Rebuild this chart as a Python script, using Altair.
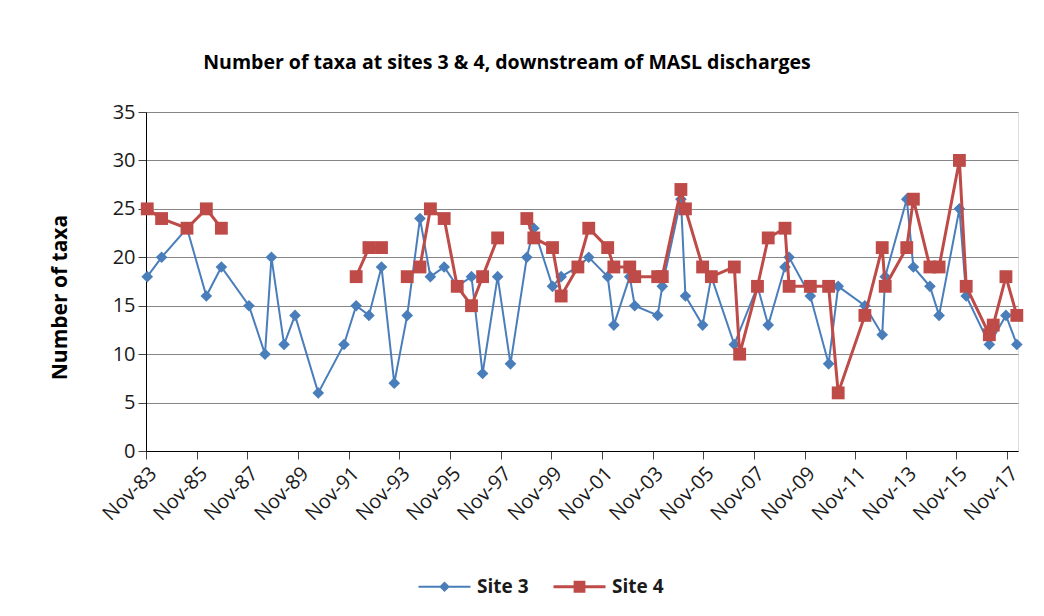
import altair as alt
import pandas as pd

# ---- data ----
dates = [
    "1983-12-03", "1984-06-27", "1985-06-28", "1986-04-03", "1986-11-06",
    "1987-12-09", "1988-07-27", "1988-10-28", "1989-04-28", "1989-10-03",
    "1990-09-03", "1991-09-09", "1992-03-03", "1992-09-03", "1993-03-03",
    "1993-09-03", "1994-03-09", "1994-09-09", "1995-02-06", "1995-08-24",
    "1996-02-28", "1996-09-21", "1997-02-28", "1997-10-03", "1998-04-06",
    "1998-11-28", "1999-03-09", "1999-12-03", "2000-04-06", "2000-12-03",
    "2001-05-09", "2002-02-06", "2002-05-06", "2002-12-21", "2003-03-03",
    "2004-01-28", "2004-04-03", "2004-12-28", "2005-03-03", "2005-11-06",
    "2006-03-12", "2007-02-06", "2007-04-24", "2008-01-06", "2008-06-09",
    "2009-02-06", "2009-04-06", "2010-02-06", "2010-10-28", "2011-03-15",
    "2012-04-03", "2012-12-09", "2013-01-21", "2013-11-28", "2014-03-03",
    "2014-10-28", "2015-03-09", "2015-12-27", "2016-04-03", "2017-03-03",
    "2017-04-28", "2017-10-28", "2018-04-03",
]
site3 = [
    18, 20, 23, 16, 19,
    15, 10, 20, 11, 14,
    6, 11, 15, 14, 19,
    7, 14, 24, 18, 19,
    17, 18, 8, 18, 9,
    20, 23, 17, 18, 19,
    20, 18, 13, 18, 15,
    14, 17, 26, 16, 13,
    18, 11, None, 17, 13,
    19, 20, 16, 9, 17,
    15, 12, 18, 26, 19,
    17, 14, 25, 16, 11,
    None, 14, 11,
]
site4 = [
    25, 24, 23, 25, 23,
    None, None, None, None, None,
    None, None, 18, 21, 21,
    None, 18, 19, 25, 24,
    17, 15, 18, 22, None,
    24, 22, 21, 16, 19,
    23, 21, 19, 19, 18,
    18, 18, 27, 25, 19,
    18, 19, 10, 17, 22,
    23, 17, 17, 17, 6,
    14, 21, 17, 21, 26,
    19, 19, 30, 17, 12,
    13, 18, 14,
]
series_names = ["Site 3", "Site 4"]
series_colors = ["#4a7ebb", "#be4b48"]
tick_years = list(range(1983, 2018, 2))
y_ticks = [0, 5, 10, 15, 20, 25, 30, 35]

rows = []
for d, a, b in zip(dates, site3, site4):
    rows.append({"date": d, "series": "Site 3", "taxa": a})
    rows.append({"date": d, "series": "Site 4", "taxa": b})
df = pd.DataFrame(rows)
legend_df = pd.DataFrame({"series": series_names})

FONT = "Open Sans"
blue, red = series_colors

# legend symbols: line with marker (custom unit paths)
p3 = "M-1.5,-0.06H1.5V0.06H-1.5Z M0,-0.31L0.31,0L0,0.31L-0.31,0Z"
p4 = "M-1.5,-0.085H1.5V0.085H-1.5Z M-0.34,-0.34H0.34V0.34H-0.34Z"


def make_legend():
    return alt.Legend(
        title=None, orient="none", direction="horizontal",
        legendX=281, legendY=457, padding=0,
        symbolSize=1200, symbolStrokeWidth=0, symbolOpacity=1,
        labelFont=FONT, labelFontSize=19, labelFontWeight="bold",
        labelColor="#1a1a1a", labelOffset=15, columnPadding=24,
    )


x_enc = alt.X(
    "date:T",
    scale=alt.Scale(type="utc", domain=[
        alt.DateTime(year=1983, month=11, date=15, utc=True),
        alt.DateTime(year=2018, month=4, date=20, utc=True)]),
    axis=alt.Axis(
        values=[alt.DateTime(year=y, month=11, date=15, utc=True) for y in tick_years],
        format="%b-%y", labelAngle=-45, labelFont=FONT, labelFontSize=20,
        labelColor="#1a1a1a", tickSize=8, tickColor="#444", domainColor="#000",
        grid=False, title=None, labelPadding=4, labelFlush=False, labelOverlap=False,
    ),
)
y_enc = alt.Y(
    "taxa:Q",
    scale=alt.Scale(domain=[0, 35], nice=False),
    axis=alt.Axis(
        values=y_ticks, grid=True, gridColor="#868686", gridWidth=1,
        tickSize=8, tickColor="#444", domainColor="#000",
        labelFont=FONT, labelFontSize=20, labelColor="#1a1a1a", labelPadding=3,
        title="Number of taxa", titleFont=FONT, titleFontSize=21,
        titleFontWeight="bold", titleColor="#000", titleX=-86, titleY=185,
        titleAngle=-90, titleAlign="center", titleBaseline="middle",
    ),
)

base = alt.Chart(df)

blue_line = base.transform_filter(
    "datum.series == 'Site 3' && isValid(datum.taxa)"
).mark_line(color=blue, strokeWidth=2).encode(x=x_enc, y=y_enc)

blue_pts = base.transform_filter(
    "datum.series == 'Site 3' && isValid(datum.taxa)"
).mark_point(shape="diamond", filled=True, size=136, opacity=1, color=blue).encode(
    x=x_enc, y=y_enc)

red_line = base.transform_filter("datum.series == 'Site 4'").mark_line(
    color=red, strokeWidth=3, invalid="break-paths-filter-domains"
).encode(x=x_enc, y=y_enc)

red_pts = base.transform_filter(
    "datum.series == 'Site 4' && isValid(datum.taxa)"
).mark_point(shape="square", filled=True, size=165, opacity=1, color=red).encode(
    x=x_enc, y=y_enc)

legend_layer = alt.Chart(legend_df).mark_point(filled=True, opacity=0).encode(
    x=alt.value(0), y=alt.value(0),
    color=alt.Color("series:N", scale=alt.Scale(domain=series_names, range=series_colors),
                    legend=make_legend()),
    shape=alt.Shape("series:N", scale=alt.Scale(domain=series_names, range=[p3, p4]),
                    legend=make_legend()),
)

chart = alt.layer(blue_line, blue_pts, red_line, red_pts, legend_layer).properties(
    width=872, height=339,
    title=alt.TitleParams(
        "Number of taxa at sites 3 & 4, downstream of MASL discharges",
        font=FONT, fontSize=19.5, fontWeight="bold", color="#000",
        anchor="middle", dx=-75, offset=29),
    autosize=alt.AutoSizeParams(type="none"),
    padding={"left": 138, "top": 104, "right": 18, "bottom": 157},
).configure_view(stroke="#a6a6a6").configure(background="white")

chart.save("out.html", embed_options={"renderer": "svg", "actions": False})
